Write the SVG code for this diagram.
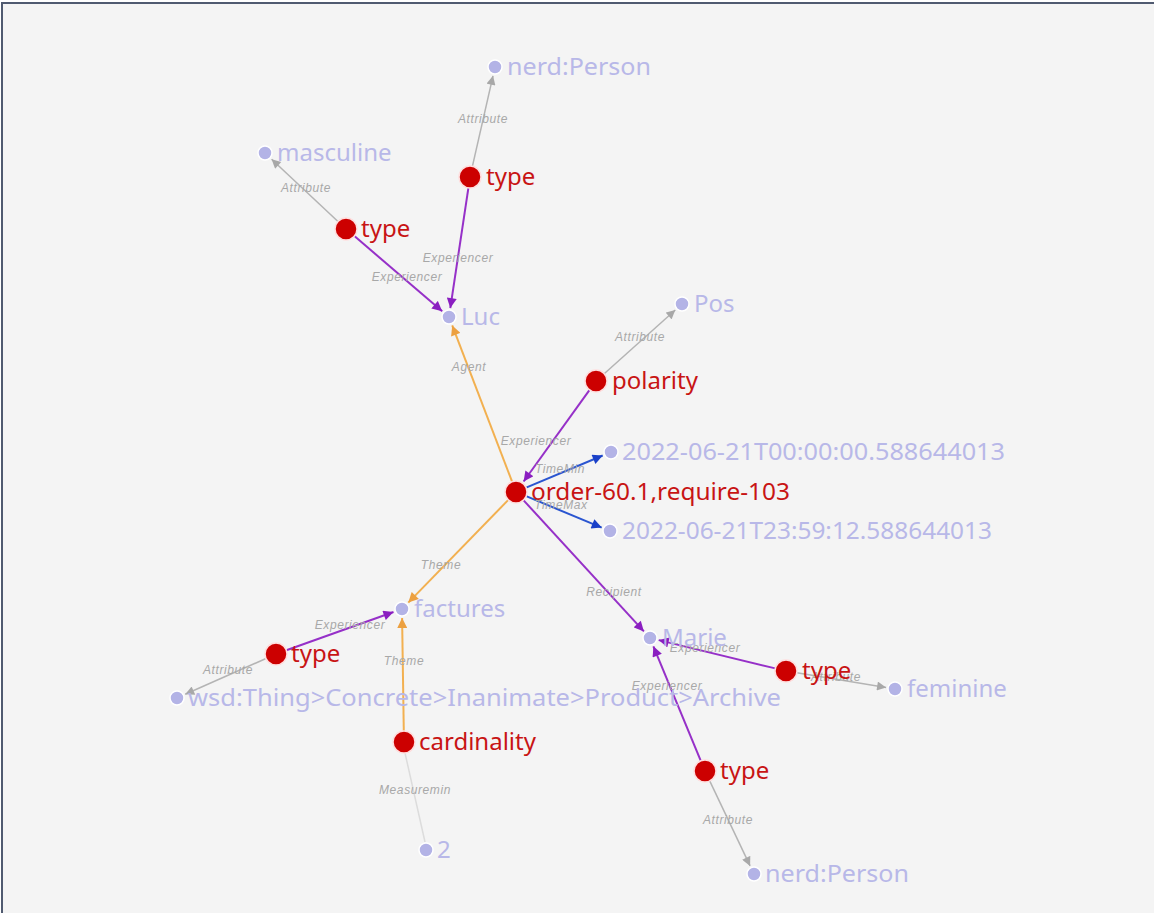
<svg xmlns="http://www.w3.org/2000/svg" width="1154" height="913" viewBox="0 0 1154 913">
<defs>
<style>
.bg{fill:#f4f4f4}
.frame{stroke:#505a70;stroke-width:2;fill:none}
.e{fill:none}
.gray{stroke:#b4b4b4;stroke-width:1.5}
.pur{stroke:#9630c8;stroke-width:2}
.ora{stroke:#f2b050;stroke-width:2}
.blu{stroke:#2a55d0;stroke-width:2}
.lgr{stroke:#dcdcdc;stroke-width:1.5}
.el{font-family:"Liberation Sans",Arial,sans-serif;font-size:12px;letter-spacing:0.6px;font-style:italic;fill:#a8a8a8;text-anchor:middle}
.lit circle{fill:#b3b3e6;stroke:#ffffff;stroke-width:1.5}
.lit text{font-family:"Noto Sans","Open Sans",sans-serif;font-size:24px;fill:#b8b8e8}
.red circle{fill:#cc0000;stroke:#ffdede;stroke-width:1.5}
.red text{font-family:"Noto Sans","Open Sans",sans-serif;font-size:24px;fill:#c81414}
</style>
<marker id="aGray" viewBox="0 0 10 10" refX="10" refY="5" markerWidth="10" markerHeight="9" markerUnits="userSpaceOnUse" orient="auto"><path d="M0,0 L10,5 L0,10 z" fill="#a8a8a8"/></marker>
<marker id="aPur" viewBox="0 0 10 10" refX="10" refY="5" markerWidth="11" markerHeight="10" markerUnits="userSpaceOnUse" orient="auto"><path d="M0,0 L10,5 L0,10 z" fill="#8a1ec0"/></marker>
<marker id="aOra" viewBox="0 0 10 10" refX="10" refY="5" markerWidth="11" markerHeight="10" markerUnits="userSpaceOnUse" orient="auto"><path d="M0,0 L10,5 L0,10 z" fill="#eca040"/></marker>
<marker id="aBlu" viewBox="0 0 10 10" refX="10" refY="5" markerWidth="11" markerHeight="10" markerUnits="userSpaceOnUse" orient="auto"><path d="M0,0 L10,5 L0,10 z" fill="#1a40c8"/></marker>
</defs>
<rect x="0" y="0" width="1154" height="913" fill="#ffffff"/>
<rect class="bg" x="3" y="4" width="1151" height="909"/>
<path class="frame" d="M2,913 L2,3 L1154,3"/>
<g id="connectors">
<line class="e gray" x1="472.4" y1="166.3" x2="493" y2="75.8" marker-end="url(#aGray)"/>
<line class="e gray" x1="338" y1="221.5" x2="271.6" y2="159.2" marker-end="url(#aGray)"/>
<line class="e pur" x1="468.4" y1="187.9" x2="450.3" y2="308.1" marker-end="url(#aPur)"/>
<line class="e pur" x1="354.4" y1="236.1" x2="442.2" y2="311.2" marker-end="url(#aPur)"/>
<line class="e ora" x1="512.1" y1="481.7" x2="452.2" y2="325.4" marker-end="url(#aOra)"/>
<line class="e gray" x1="604.2" y1="373.7" x2="675.3" y2="310" marker-end="url(#aGray)"/>
<line class="e pur" x1="589.6" y1="389.9" x2="523.6" y2="481.5" marker-end="url(#aPur)"/>
<line class="e blu" x1="526.1" y1="487.7" x2="602.7" y2="455.5" marker-end="url(#aBlu)"/>
<line class="e blu" x1="526.2" y1="496.2" x2="601.7" y2="527.6" marker-end="url(#aBlu)"/>
<line class="e ora" x1="508.3" y1="499.9" x2="408.3" y2="602.6" marker-end="url(#aOra)"/>
<line class="e pur" x1="523.4" y1="500.1" x2="643.9" y2="631.4" marker-end="url(#aPur)"/>
<line class="e pur" x1="286.4" y1="650.3" x2="393.5" y2="612" marker-end="url(#aPur)"/>
<line class="e gray" x1="266" y1="658.5" x2="185.2" y2="694.3" marker-end="url(#aGray)"/>
<line class="e ora" x1="403.8" y1="731" x2="402.1" y2="618" marker-end="url(#aOra)"/>
<line class="e lgr" x1="405" y1="753" x2="425" y2="842"/>
<line class="e pur" x1="775.3" y1="668.4" x2="658.7" y2="640.1" marker-end="url(#aPur)"/>
<line class="e gray" x1="796.8" y1="672.8" x2="886.1" y2="687.5" marker-end="url(#aGray)"/>
<line class="e pur" x1="700.8" y1="760.8" x2="653.4" y2="646.3" marker-end="url(#aPur)"/>
<line class="e gray" x1="709.7" y1="780.9" x2="750.1" y2="865.9" marker-end="url(#aGray)"/>
<text class="el" x="483" y="123">Attribute</text>
<text class="el" x="306" y="192">Attribute</text>
<text class="el" x="458" y="262">Experiencer</text>
<text class="el" x="407" y="281">Experiencer</text>
<text class="el" x="469" y="371">Agent</text>
<text class="el" x="640" y="341">Attribute</text>
<text class="el" x="536" y="445">Experiencer</text>
<text class="el" x="560" y="473">TimeMin</text>
<text class="el" x="561" y="509">TimeMax</text>
<text class="el" x="441" y="569">Theme</text>
<text class="el" x="614" y="596">Recipient</text>
<text class="el" x="350" y="629">Experiencer</text>
<text class="el" x="228" y="674">Attribute</text>
<text class="el" x="404" y="665">Theme</text>
<text class="el" x="415" y="794">Measuremin</text>
<text class="el" x="705" y="652">Experiencer</text>
<text class="el" x="836" y="681">Attribute</text>
<text class="el" x="667" y="690">Experiencer</text>
<text class="el" x="728" y="824">Attribute</text>
</g>
<g id="n-nerdperson1" class="lit"><circle cx="495" cy="67" r="7"/><text x="507" y="75" textLength="144" lengthAdjust="spacingAndGlyphs">nerd:Person</text></g>
<g id="n-masculine" class="lit"><circle cx="265" cy="153" r="7"/><text x="277" y="161">masculine</text></g>
<g id="n-luc" class="lit"><circle cx="449" cy="317" r="7"/><text x="461" y="325">Luc</text></g>
<g id="n-pos" class="lit"><circle cx="682" cy="304" r="7"/><text x="694" y="312">Pos</text></g>
<g id="n-time1" class="lit"><circle cx="611" cy="452" r="7"/><text x="622" y="460" textLength="383" lengthAdjust="spacingAndGlyphs">2022-06-21T00:00:00.588644013</text></g>
<g id="n-time2" class="lit"><circle cx="610" cy="531" r="7"/><text x="622" y="539" textLength="370" lengthAdjust="spacingAndGlyphs">2022-06-21T23:59:12.588644013</text></g>
<g id="n-factures" class="lit"><circle cx="402" cy="609" r="7"/><text x="414" y="617">factures</text></g>
<g id="n-marie" class="lit"><circle cx="650" cy="638" r="7"/><text x="662" y="646">Marie</text></g>
<g id="n-wsd" class="lit"><circle cx="177" cy="698" r="7"/><text x="188" y="706" textLength="593" lengthAdjust="spacingAndGlyphs">wsd:Thing&gt;Concrete&gt;Inanimate&gt;Product&gt;Archive</text></g>
<g id="n-feminine" class="lit"><circle cx="895" cy="689" r="7"/><text x="907" y="697">feminine</text></g>
<g id="n-two" class="lit"><circle cx="426" cy="850" r="7"/><text x="437" y="858">2</text></g>
<g id="n-nerdperson2" class="lit"><circle cx="754" cy="874" r="7"/><text x="765" y="882" textLength="144" lengthAdjust="spacingAndGlyphs">nerd:Person</text></g>
<g id="n-type1" class="red"><circle cx="470" cy="177" r="11"/><text x="486" y="185">type</text></g>
<g id="n-type2" class="red"><circle cx="346" cy="229" r="11"/><text x="361" y="237">type</text></g>
<g id="n-polarity" class="red"><circle cx="596" cy="381" r="11"/><text x="612" y="389">polarity</text></g>
<g id="n-order" class="red"><circle cx="516" cy="492" r="11"/><text x="531" y="500" textLength="259" lengthAdjust="spacingAndGlyphs">order-60.1,require-103</text></g>
<g id="n-type3" class="red"><circle cx="276" cy="654" r="11"/><text x="291" y="662">type</text></g>
<g id="n-type4" class="red"><circle cx="786" cy="671" r="11"/><text x="802" y="679">type</text></g>
<g id="n-cardinality" class="red"><circle cx="404" cy="742" r="11"/><text x="419" y="750">cardinality</text></g>
<g id="n-type5" class="red"><circle cx="705" cy="771" r="11"/><text x="720" y="779">type</text></g>
</svg>
